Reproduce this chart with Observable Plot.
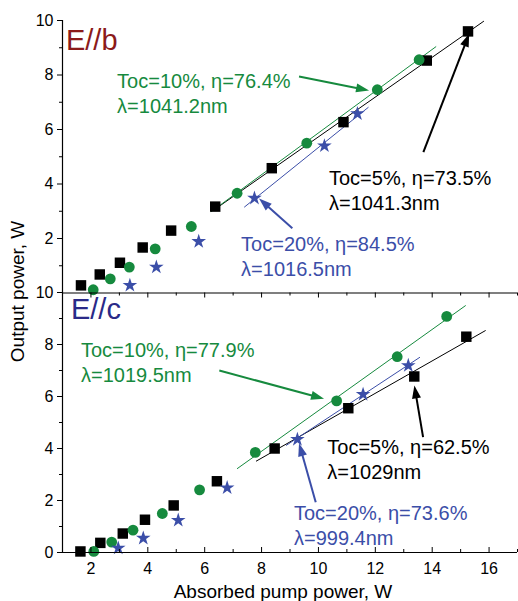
<!DOCTYPE html>
<html><head><meta charset="utf-8">
<script src="https://cdn.jsdelivr.net/npm/d3@7"></script>
<script src="https://cdn.jsdelivr.net/npm/@observablehq/plot@0.6"></script>
<style>
html,body{margin:0;padding:0;background:#fff;}
#chart{position:relative;width:518px;height:601px;overflow:hidden;background:#fff;}
#chart svg{position:absolute;left:0;top:0;background:transparent;}
</style></head><body><div id="chart"></div>
<script>
// ---------- Data: top panel (E//b) ----------
const topSquareX = [1.65, 2.31, 3.02, 3.82, 4.82, 6.37, 8.36, 10.88, 13.81, 15.26];
const topSquareY = [0.28, 0.68, 1.11, 1.67, 2.29, 3.17, 4.58, 6.27, 8.53, 9.60];
const topCircleX = [2.08, 2.68, 3.35, 4.26, 5.53, 7.14, 9.59, 12.07, 13.54];
const topCircleY = [0.12, 0.52, 0.95, 1.62, 2.44, 3.66, 5.50, 7.46, 8.56];
const topStarX = [3.37, 4.30, 5.79, 7.75, 10.21, 11.37];
const topStarY = [0.28, 0.95, 1.89, 3.48, 5.40, 6.58];
// ---------- Data: bottom panel (E//c) ----------
const botSquareX = [1.63, 2.33, 3.12, 3.90, 4.91, 6.43, 8.46, 11.05, 13.37, 15.20];
const botSquareY = [0.04, 0.37, 0.73, 1.26, 1.81, 2.74, 4.00, 5.55, 6.77, 8.30];
const botCircleX = [2.10, 2.73, 3.48, 4.51, 5.82, 7.78, 10.64, 12.77, 14.51];
const botCircleY = [0.04, 0.40, 0.86, 1.50, 2.41, 3.85, 5.83, 7.53, 9.08];
const botStarX = [2.96, 3.84, 5.07, 6.79, 9.26, 11.57, 13.16];
const botStarY = [0.17, 0.55, 1.24, 2.49, 4.35, 6.08, 7.19];

// ---------- Linear fits (order: Toc=5%, Toc=10%, Toc=20%) ----------
const topFitSlope = [0.730, 0.766, 0.840];
const topFitIntercept = [-1.57, -1.786, -3.06];
const topFitFrom = [6.40, 6.22, 7.39];
const topFitTo = [15.82, 14.14, 11.76];
const botFitSlope = [0.623, 0.781, 0.721];
const botFitIntercept = [-1.353, -2.354, -2.273];
const botFitFrom = [7.805, 7.137, 8.86];
const botFitTo = [15.88, 15.18, 13.57];

// ---------- Annotation texts ----------
const panelLabels = ["E//b", "E//c"];
const topNoteText = ["Toc=5%, η=73.5%\nλ=1041.3nm", "Toc=10%, η=76.4%\nλ=1041.2nm", "Toc=20%, η=84.5%\nλ=1016.5nm"];
const botNoteText = ["Toc=5%, η=62.5%\nλ=1029nm", "Toc=10%, η=77.9%\nλ=1019.5nm", "Toc=20%, η=73.6%\nλ=999.4nm"];

// ---------- Axis ticks ----------
const xMajorTicks = [2, 4, 6, 8, 10, 12, 14, 16];
const xMinorTicks = [3, 5, 7, 9, 11, 13, 15, 17];
const yMajorTicksTop = [2, 4, 6, 8, 10];
const yMajorTicksBot = [0, 2, 4, 6, 8, 10];
const yMinorTicks = [1, 3, 5, 7, 9];
const xTitle = "Absorbed pump power, W";
const yTitle = "Output power, W";

// annotation placement (data units of each panel)
const topNotePos = [[10.37, 3.03], [2.92, 6.62], [7.28, 0.64]];
const botNotePos = [[10.31, 2.835], [1.65, 6.55], [9.14, 0.27]];
const topArrows = [[13.69, 5.167, 15.30, 9.512], [9.318, 7.945, 11.78, 7.431], [9.082, 2.378, 7.911, 3.468]];
const botArrows = [[13.68, 4.435, 13.373, 6.423], [6.514, 7.0, 10.197, 5.912], [9.905, 1.935, 9.318, 4.204]];
const panelLabelPos = [[1.122, 8.925], [1.298, 9.0]];
const yTitlePos = [-0.58, 10.04];

const COLORS = ["#000000", "#168a3e", "#3b4ea8"];
const PANEL_COLORS = ["#8b1a1a", "#2a2a88"];
const FONT = "'Liberation Sans', Arial, Helvetica, sans-serif";

const W = 518, H = 601, ML = 62, MR = 1;
const XDOM = [1, 17];

// filled arrow head symbol, tip at origin, pointing up
const HEAD_L = 13, HEAD_W = 4.5;
const arrowHead = {
  draw(ctx) {
    ctx.moveTo(0, 0);
    ctx.lineTo(-HEAD_W, HEAD_L);
    ctx.lineTo(HEAD_W, HEAD_L);
    ctx.closePath();
  }
};

function panel(cfg) {
  const idx = (a) => d3.range(a.length);
  const kx = (W - ML - MR) / (XDOM[1] - XDOM[0]);
  const ky = cfg.plotH / 10;
  const geo = cfg.arrows.map(([x1, y1, x2, y2]) => {
    const px = (x2 - x1) * kx, py = -(y2 - y1) * ky;
    const len = Math.hypot(px, py);
    const back = HEAD_L * 0.6 / len;
    return {
      angle: Math.atan2(px, -py) * 180 / Math.PI,
      sx: x2 - (x2 - x1) * back, sy: y2 - (y2 - y1) * back
    };
  });
  return [
    Plot.link([0, 1, 2], {
      x1: i => cfg.from[i], y1: i => cfg.slope[i] * cfg.from[i] + cfg.intercept[i],
      x2: i => cfg.to[i], y2: i => cfg.slope[i] * cfg.to[i] + cfg.intercept[i],
      stroke: i => COLORS[i], strokeWidth: 1
    }),
    Plot.dot(idx(cfg.sqX), {x: i => cfg.sqX[i], y: i => cfg.sqY[i], symbol: "square", r: 5.9, fill: COLORS[0]}),
    Plot.dot(idx(cfg.ciX), {x: i => cfg.ciX[i], y: i => cfg.ciY[i], symbol: "circle", r: 5.4, fill: COLORS[1]}),
    Plot.dot(idx(cfg.stX), {x: i => cfg.stX[i], y: i => cfg.stY[i], symbol: "star", r: 4.6, fill: COLORS[2]}),
    Plot.link([0, 1, 2], {
      x1: i => cfg.arrows[i][0], y1: i => cfg.arrows[i][1],
      x2: i => geo[i].sx, y2: i => geo[i].sy,
      stroke: i => COLORS[i], strokeWidth: 2
    }),
    Plot.dot([0, 1, 2], {
      x: i => cfg.arrows[i][2], y: i => cfg.arrows[i][3],
      symbol: arrowHead, rotate: i => geo[i].angle, fill: i => COLORS[i], stroke: "none"
    }),
    Plot.text([0, 1, 2], {
      x: i => cfg.notePos[i][0], y: i => cfg.notePos[i][1], text: i => cfg.notes[i],
      fill: i => COLORS[i], textAnchor: "start", lineAnchor: "bottom", lineHeight: 1.25, fontSize: 20
    }),
    Plot.text([cfg.label], {
      x: cfg.labelPos[0], y: cfg.labelPos[1], text: d => d, fill: cfg.labelColor,
      textAnchor: "start", lineAnchor: "bottom", fontSize: 29
    }),
    Plot.ruleX([1], {stroke: "#000", strokeWidth: 1.2}),
    Plot.ruleY([0], {stroke: "#000", strokeWidth: 1.2}),
    Plot.axisY(cfg.yMajor, {tickSize: 5, tickPadding: 4, fontSize: 16, label: null}),
    Plot.axisY(yMinorTicks, {tickSize: 3, tickFormat: () => "", label: null})
  ];
}

const topPlot = Plot.plot({
  width: W, height: H,
  marginLeft: ML, marginRight: MR, marginTop: 20, marginBottom: H - 292.5,
  x: {domain: XDOM},
  y: {domain: [0, 10]},
  style: {fontFamily: FONT, background: "transparent", color: "#000", overflow: "visible"},
  marks: [
    ...panel({
      plotH: 292.5 - 20,
      sqX: topSquareX, sqY: topSquareY, ciX: topCircleX, ciY: topCircleY, stX: topStarX, stY: topStarY,
      slope: topFitSlope, intercept: topFitIntercept, from: topFitFrom, to: topFitTo,
      arrows: topArrows, notes: topNoteText, notePos: topNotePos,
      label: panelLabels[0], labelPos: panelLabelPos[0], labelColor: PANEL_COLORS[0],
      yMajor: yMajorTicksTop
    }),
    Plot.axisX(xMajorTicks, {tickSize: 5, tickFormat: () => "", label: null}),
    Plot.axisX(xMinorTicks, {tickSize: 3, tickFormat: () => "", label: null})
  ]
});

const botPlot = Plot.plot({
  width: W, height: H,
  marginLeft: ML, marginRight: MR, marginTop: 292, marginBottom: H - 552,
  x: {domain: XDOM},
  y: {domain: [0, 10]},
  style: {fontFamily: FONT, background: "transparent", color: "#000", overflow: "visible"},
  marks: [
    ...panel({
      plotH: 552 - 292,
      sqX: botSquareX, sqY: botSquareY, ciX: botCircleX, ciY: botCircleY, stX: botStarX, stY: botStarY,
      slope: botFitSlope, intercept: botFitIntercept, from: botFitFrom, to: botFitTo,
      arrows: botArrows, notes: botNoteText, notePos: botNotePos,
      label: panelLabels[1], labelPos: panelLabelPos[1], labelColor: PANEL_COLORS[1],
      yMajor: yMajorTicksBot
    }),
    Plot.ruleX(xMajorTicks, {stroke: "#000", insetTop: 255}),
    Plot.ruleX(xMinorTicks, {stroke: "#000", insetTop: 257}),
    Plot.axisX(xMajorTicks, {tickSize: 0, tickPadding: 10, fontSize: 16, label: null}),
    Plot.text([xTitle], {frameAnchor: "bottom", dx: -7, dy: 45, lineAnchor: "bottom", fontSize: 19, text: d => d, fill: "#000"}),
    Plot.text([yTitle], {x: yTitlePos[0], y: yTitlePos[1], rotate: -90, textAnchor: "middle", lineAnchor: "middle", fontSize: 19, text: d => d, fill: "#000"})
  ]
});

const host = document.getElementById("chart");
host.appendChild(topPlot);
host.appendChild(botPlot);
</script>
</body></html>
